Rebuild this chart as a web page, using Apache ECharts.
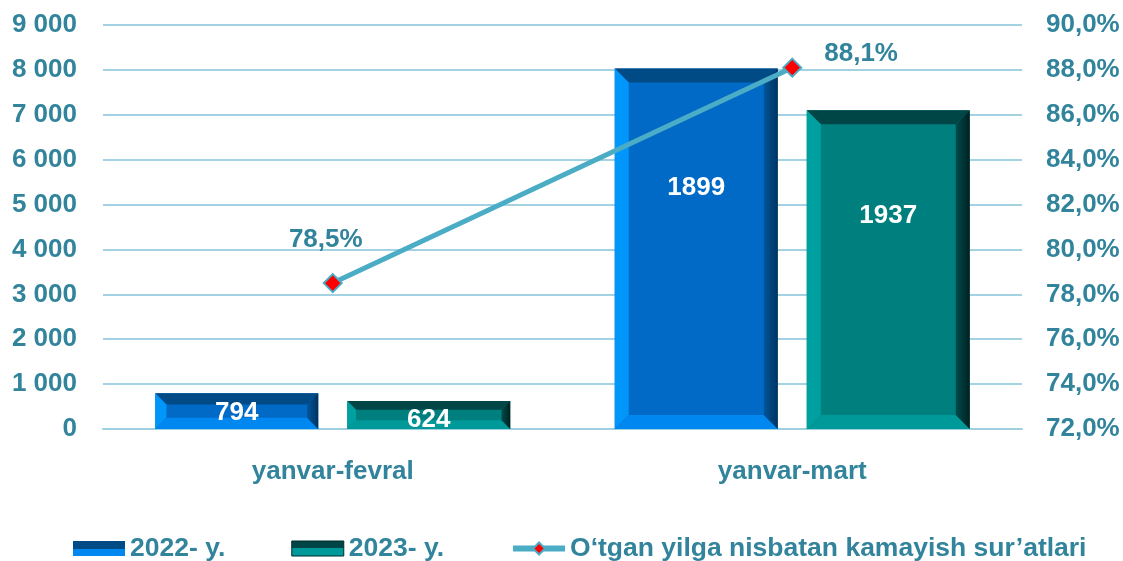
<!DOCTYPE html>
<html>
<head>
<meta charset="utf-8">
<script src="https://cdn.jsdelivr.net/npm/echarts@6/dist/echarts.min.js"></script>
<style>
  html, body { margin: 0; padding: 0; background: #fff; }
  #main { width: 1123px; height: 561px; }
</style>
</head>
<body>
<div id="main"></div>
<script>
// data
const categories = ['yanvar-fevral', 'yanvar-mart']
const values2022 = [794, 8030]
const values2023 = [624, 7100]
// the labels written on the bars (as printed in the source)
const labels2022 = ['794', '1899']
const labels2023 = ['624', '1937']
const rateValues = [78.5, 88.1]
const seriesNames = ['2022- y.', '2023- y.', 'O‘tgan yilga nisbatan kamayish sur’atlari']

const textColor = '#31849b'
const fontFam = 'Liberation Sans, Arial, sans-serif'

// colours of the bevelled bars
const bevel2022 = { face: '#006ac6', top: '#004a86', left: '#0096fa', right: ['#00569a', '#00325f'], bottom: '#0088f0' }
const bevel2023 = { face: '#007f7f', top: '#004646', left: '#00a0a0', right: ['#004c4c', '#001f1f'], bottom: '#009999' }

const grad = (a, b) => new echarts.graphic.LinearGradient(0, 0, 1, 0, [{ offset: 0, color: a }, { offset: 1, color: b }])

// bevelled bar drawn through the axes
const makeBevel = (side, colors, labels) => (params, api) => {
    const cat = api.value(0)
    const val = api.value(1)
    const base = api.coord([cat, 0])
    const top = api.coord([cat, val])
    const band = api.size([1, 0])[0]
    const barW = band * 163 / 459.5
    const gap = band * 29 / 459.5
    const cx = base[0] + side * (gap / 2 + barW / 2)
    const x0 = cx - barW / 2, x1 = cx + barW / 2
    const y0 = top[1], y1 = base[1]
    const h = y1 - y0
    const b = Math.min(14, h / 3.2)
    const poly = (pts, fill) => ({ type: 'polygon', shape: { points: pts }, style: { fill: fill } })
    const labelY = y0 + Math.max(h * 0.33, 19)
    return {
        type: 'group',
        children: [
            { type: 'rect', shape: { x: x0, y: y0, width: barW, height: h }, style: { fill: colors.face } },
            poly([[x0, y0], [x1, y0], [x1 - b, y0 + b], [x0 + b, y0 + b]], colors.top),
            poly([[x0, y0], [x0 + b, y0 + b], [x0 + b, y1 - b], [x0, y1]], colors.left),
            poly([[x0, y1], [x0 + b, y1 - b], [x1 - b, y1 - b], [x1, y1]], colors.bottom),
            poly([[x1, y0], [x1 - b, y0 + b], [x1 - b, y1 - b], [x1, y1]], grad(colors.right[0], colors.right[1])),
            {
                type: 'text',
                style: {
                    x: cx, y: labelY, text: labels[params.dataIndex],
                    fill: '#ffffff', font: 'bold 26px ' + fontFam,
                    align: 'center', verticalAlign: 'middle'
                }
            }
        ]
    }
}

const legendGrad = c => new echarts.graphic.LinearGradient(0, 0, 0, 1, [
    { offset: 0, color: c.top }, { offset: 0.5, color: c.top },
    { offset: 0.5, color: c.bottom }, { offset: 1, color: c.bottom }
])

const chart = echarts.init(document.getElementById('main'))

const option = {
    animation: false,
    grid: { left: 103, right: 101, top: 25, bottom: 132 },
    legend: {
        top: 530,
        left: 68,
        itemWidth: 52,
        itemHeight: 15,
        itemGap: 66,
        textStyle: { color: textColor, fontSize: 26.5, fontWeight: 'bold', fontFamily: fontFam },
        data: [
            { name: seriesNames[0], icon: 'rect', itemStyle: { color: legendGrad(bevel2022) } },
            { name: seriesNames[1], icon: 'rect', itemStyle: { color: legendGrad(bevel2023), borderColor: '#002a2a', borderWidth: 1 } },
            { name: seriesNames[2], lineStyle: { width: 6 } }
        ]
    },
    xAxis: {
        type: 'category',
        data: categories,
        axisLine: { lineStyle: { color: '#9fd0e0', width: 2 } },
        axisTick: { show: false },
        axisLabel: { color: textColor, fontSize: 26, fontWeight: 'bold', fontFamily: fontFam, margin: 30 }
    },
    yAxis: [
        {
            type: 'value',
            min: 0, max: 9000, interval: 1000,
            axisLine: { show: false },
            splitLine: { lineStyle: { color: '#a3d2e2', width: 2 } },
            axisLabel: {
                color: textColor, fontSize: 26, fontWeight: 'bold', fontFamily: fontFam, margin: 26,
                formatter: v => String(v).replace(/\B(?=(\d{3})+(?!\d))/g, ' ')
            }
        },
        {
            type: 'value',
            min: 72, max: 90, interval: 2,
            axisLine: { show: false },
            splitLine: { show: false },
            axisLabel: {
                color: textColor, fontSize: 26, fontWeight: 'bold', fontFamily: fontFam, margin: 24,
                formatter: v => v.toFixed(1).replace('.', ',') + '%'
            }
        }
    ],
    series: [
        {
            name: seriesNames[0],
            type: 'custom',
            itemStyle: { color: bevel2022.face },
            encode: { x: 0, y: 1 },
            data: values2022.map((v, i) => [i, v]),
            renderItem: makeBevel(-1, bevel2022, labels2022)
        },
        {
            name: seriesNames[1],
            type: 'custom',
            itemStyle: { color: bevel2023.face },
            encode: { x: 0, y: 1 },
            data: values2023.map((v, i) => [i, v]),
            renderItem: makeBevel(1, bevel2023, labels2023)
        },
        {
            name: seriesNames[2],
            type: 'line',
            yAxisIndex: 1,
            symbol: 'diamond',
            symbolSize: 18,
            z: 5,
            lineStyle: { color: '#4bacc6', width: 5 },
            itemStyle: { color: '#ff0000', borderColor: '#4bacc6', borderWidth: 2 },
            label: {
                show: true,
                color: textColor, fontSize: 26, fontWeight: 'bold', fontFamily: fontFam,
                formatter: p => p.value.toFixed(1).replace('.', ',') + '%'
            },
            data: rateValues.map((v, i) => i === 0
                ? { value: v, label: { position: 'top', distance: 20, offset: [-7, 0] } }
                : { value: v, label: { position: 'right', distance: 22, offset: [0, -14] } })
        }
    ]
}

chart.setOption(option)
</script>
</body>
</html>
